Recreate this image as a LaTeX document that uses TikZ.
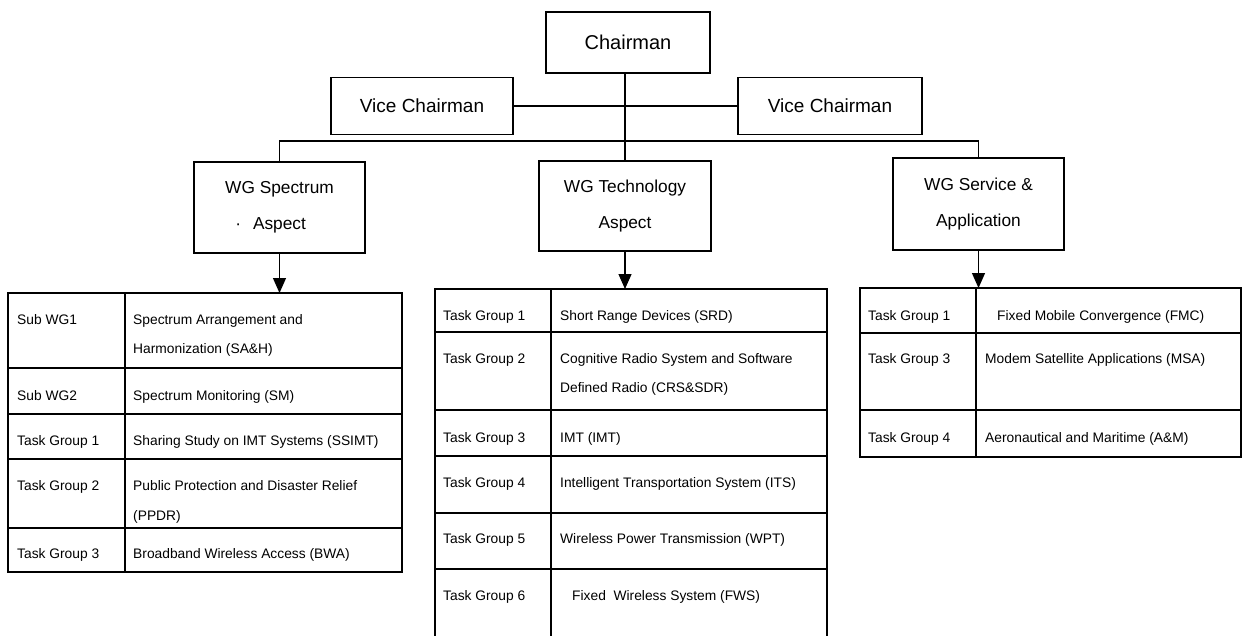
\documentclass[tikz,border=0pt]{standalone}
\usepackage{fontspec}
\setmainfont{Liberation Sans}
\usetikzlibrary{arrows.meta}
\begin{document}
\begin{tikzpicture}[x=1pt,y=-1pt,
  box/.style={draw,line width=1.6pt,inner sep=0pt,align=center},
  bigtxt/.style={font=\fontsize{20}{24}\selectfont},
  vicetxt/.style={font=\fontsize{19}{23}\selectfont},
  wgtxt/.style={font=\fontsize{17.3}{36}\selectfont},
  conn/.style={line width=1.2pt},
  arr/.style={line width=1.2pt,-{Triangle[length=15pt,width=13pt]}},
  gridline/.style={line width=1.4pt},
  cell/.style={anchor=base west,inner sep=0pt,font=\fontsize{13.8}{16}\selectfont},
  ]
\useasboundingbox (0,0) rectangle (1244,636);

% top boxes
\node[box,bigtxt,minimum width=164pt,minimum height=61pt] (ch) at (628,42.5) {Chairman};
\node[box,vicetxt,minimum width=182pt,minimum height=57pt] (vl) at (422,106) {Vice Chairman};
\node[box,vicetxt,minimum width=184pt,minimum height=57pt] (vr) at (830,106) {Vice Chairman};

% working groups
\node[box,wgtxt,minimum width=171pt,minimum height=91pt] (ws) at (279.5,207.5) {WG Spectrum\\\llap{·\hspace{12pt}}Aspect};
\node[box,wgtxt,minimum width=172pt,minimum height=90pt] (wt) at (625,206) {WG Technology\\Aspect};
\node[box,wgtxt,minimum width=171pt,minimum height=92pt] (wv) at (978.5,204) {WG Service \&\\Application};

% connectors
\coordinate (bus) at (0,141);
\draw[conn] (vl.east) -- (vr.west);
\draw[conn] (wt.north |- ch.south) -- (wt.north);
\draw[conn] (ws.north) -- (ws.north |- bus) -- (wv.north |- bus) -- (wv.north);

\coordinate (tA) at (279.5,293);
\coordinate (tB) at (625,289);
\coordinate (tC) at (978.5,288);
\draw[arr] (ws.south) -- (tA);
\draw[arr] (wt.south) -- (tB);
\draw[arr] (wv.south) -- (tC);

% left table
\draw[gridline] (8,293) rectangle (402,572);
\draw[gridline] (125,293) -- (125,572);
\foreach \yy in {368,414,459,528} \draw[gridline] (8,\yy) -- (402,\yy);
\node[cell] (l1a) at (17,324) {Sub WG1};
\node[cell] (l1b) at (133,324) {Spectrum Arrangement and};
\node[cell] (l1c) at (133,353) {Harmonization (SA\&H)};
\node[cell] (l2a) at (17,400) {Sub WG2};
\node[cell] (l2b) at (133,400) {Spectrum Monitoring (SM)};
\node[cell] (l3a) at (17,445) {Task Group 1};
\node[cell] (l3b) at (133,445) {Sharing Study on IMT Systems (SSIMT)};
\node[cell] (l4a) at (17,490) {Task Group 2};
\node[cell] (l4b) at (133,490) {Public Protection and Disaster Relief};
\node[cell] (l4c) at (133,520) {(PPDR)};
\node[cell] (l5a) at (17,558) {Task Group 3};
\node[cell] (l5b) at (133,558) {Broadband Wireless Access (BWA)};

% middle table
\draw[gridline] (435,636) -- (435,289) -- (827,289) -- (827,636);
\draw[gridline] (551,289) -- (551,636);
\foreach \yy in {332,410,456,513,569} \draw[gridline] (435,\yy) -- (827,\yy);
\node[cell] (m1a) at (443,320) {Task Group 1};
\node[cell] (m1b) at (560,320) {Short Range Devices (SRD)};
\node[cell] (m2a) at (443,363) {Task Group 2};
\node[cell] (m2b) at (560,363) {Cognitive Radio System and Software};
\node[cell] (m2c) at (560,392) {Defined Radio (CRS\&SDR)};
\node[cell] (m3a) at (443,442) {Task Group 3};
\node[cell] (m3b) at (560,442) {IMT (IMT)};
\node[cell] (m4a) at (443,487) {Task Group 4};
\node[cell] (m4b) at (560,487) {Intelligent Transportation System (ITS)};
\node[cell] (m5a) at (443,543) {Task Group 5};
\node[cell] (m5b) at (560,543) {Wireless Power Transmission (WPT)};
\node[cell] (m6a) at (443,600) {Task Group 6};
\node[cell] (m6b) at (572,600) {Fixed\ \ Wireless System (FWS)};

% right table
\draw[gridline] (860,288) rectangle (1241,457);
\draw[gridline] (976,288) -- (976,457);
\foreach \yy in {333,410} \draw[gridline] (860,\yy) -- (1241,\yy);
\node[cell] (r1a) at (868,320) {Task Group 1};
\node[cell] (r1b) at (997,320) {Fixed Mobile Convergence (FMC)};
\node[cell] (r2a) at (868,363) {Task Group 3};
\node[cell] (r2b) at (985,363) {Modem Satellite Applications (MSA)};
\node[cell] (r3a) at (868,442) {Task Group 4};
\node[cell] (r3b) at (985,442) {Aeronautical and Maritime (A\&M)};
\end{tikzpicture}
\end{document}
